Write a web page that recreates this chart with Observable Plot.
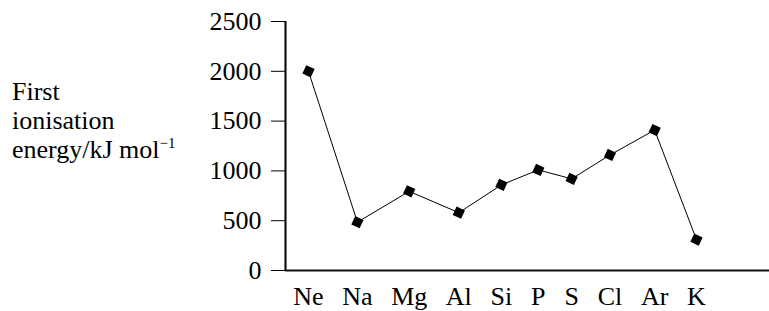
<!DOCTYPE html>
<html>
<head>
<meta charset="utf-8">
<script src="https://cdn.jsdelivr.net/npm/d3@7"></script>
<script src="https://cdn.jsdelivr.net/npm/@observablehq/plot@0.6"></script>
<style>
  html, body { margin: 0; padding: 0; background: #fff; font-family: 'Liberation Serif'; }
  #wrap { position: relative; width: 769px; height: 311px; }
  svg text, svg tspan { font-family: 'Liberation Serif' !important; }
</style>
</head>
<body>
<div id="wrap">
  <div id="ylabel" style="position:absolute;left:12px;top:77px;font-family:'Liberation Serif';font-size:26px;line-height:29px;color:#000;white-space:nowrap;">First<br>ionisation<br>energy/kJ mol<sup style="font-size:15px;line-height:0;vertical-align:10px;">−1</sup></div>
</div>
<script>
const elements = ["Ne", "Na", "Mg", "Al", "Si", "P", "S", "Cl", "Ar", "K"];
const energies = [2000, 485, 795, 580, 860, 1010, 920, 1160, 1410, 310];
const yTicks = [0, 500, 1000, 1500, 2000, 2500];

const FONT = "Liberation Serif";
const FS = 26;

// Category labels are typeset as a run of text: positions follow label widths.
const ctx = document.createElement("canvas").getContext("2d");
ctx.font = `${FS}px 'Liberation Serif'`;
const gap = ctx.measureText("   ").width;
let pos = 0;
const centers = elements.map(e => {
  const w = ctx.measureText(e).width;
  const c = pos + w / 2;
  pos += w + gap;
  return c;
});
const labelAt = new Map(centers.map((c, i) => [c, elements[i]]));
const data = elements.map((e, i) => ({el: e, x: centers[i], y: energies[i]}));

const W = 769, H = 311, mL = 285, mR = 0, mT = 21, mB = 41;
const firstPx = 308, lastPx = 696;
const k = (lastPx - firstPx) / (centers[centers.length - 1] - centers[0]);
const xMin = centers[0] - (firstPx - mL) / k;
const xMax = centers[centers.length - 1] + (W - mR - lastPx) / k;

const chart = Plot.plot({
  width: W, height: H,
  marginLeft: mL, marginRight: mR, marginTop: mT, marginBottom: mB,
  style: {fontFamily: FONT, fontSize: FS + "px", color: "#000", background: "#fff"},
  x: {type: "linear", domain: [xMin, xMax]},
  y: {domain: [0, 2500]},
  marks: [
    Plot.axisY({ticks: yTicks, tickSize: 14, tickPadding: 10, tickFormat: d => String(d),
      fontSize: FS, stroke: "#000", label: null}),
    Plot.axisX({ticks: centers, tickFormat: d => labelAt.get(d), tickSize: 0, tickPadding: 16,
      fontSize: FS, label: null}),
    Plot.ruleY([0], {stroke: "#111", strokeWidth: 2.2}),
    Plot.ruleX([xMin], {y1: 0, y2: 2500, stroke: "#111", strokeWidth: 2.2}),
    Plot.line(data, {x: "x", y: "y", stroke: "#000", strokeWidth: 1}),
    Plot.dot(data, {x: "x", y: "y", symbol: "square", r: 5.2, fill: "#000", stroke: "none", rotate: 25})
  ]
});
d3.select(chart).attr("font-family", FONT).style("font-family", FONT);
document.getElementById("wrap").prepend(chart);
</script>
</body>
</html>
